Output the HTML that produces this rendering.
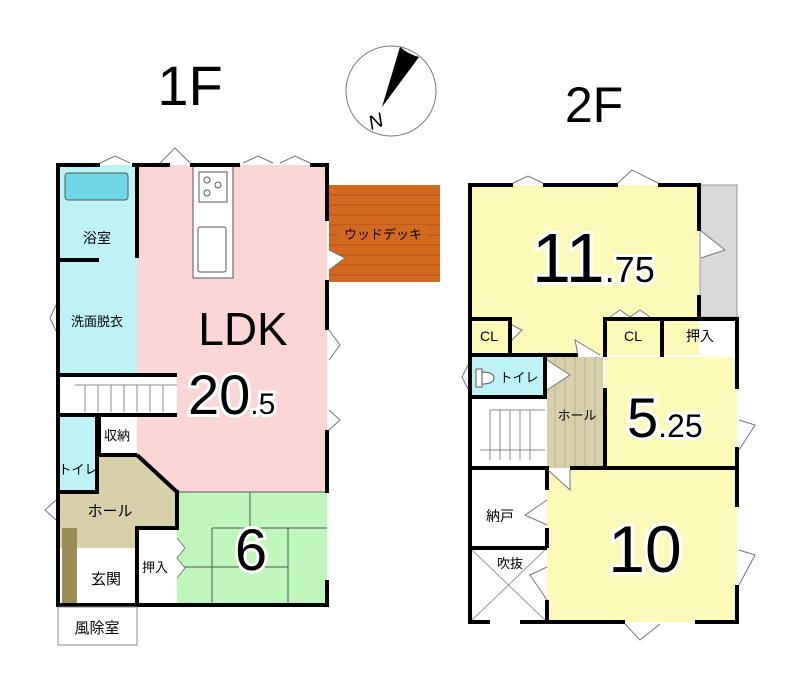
<!DOCTYPE html>
<html><head><meta charset="utf-8"><style>
html,body{margin:0;padding:0;background:#fff}
svg{display:block}
text{font-family:"Liberation Sans","Noto Sans CJK JP",sans-serif}
</style></head><body>
<svg width="800" height="682" viewBox="0 0 800 682" xmlns="http://www.w3.org/2000/svg">
<rect width="800" height="682" fill="#fff"/>
<text x="190" y="105" font-size="56" text-anchor="middle">1F</text>
<text x="594" y="122" font-size="50" text-anchor="middle">2F</text>
<!-- compass -->
<circle cx="391" cy="91" r="45" fill="#fff" stroke="#777" stroke-width="1"/>
<path d="M400,47 Q408,54 419,57 L382,107 Z" fill="#000"/>
<text x="376" y="128" font-size="20" font-family="Liberation Serif" font-style="italic" text-anchor="middle" transform="rotate(-20 376 122)">N</text>

<!-- ===== 1F ===== -->
<rect x="329" y="185" width="111" height="97" fill="#d2691e"/>
<g stroke="#b0501a" stroke-width="1">
<line x1="329" y1="195" x2="440" y2="195"/><line x1="329" y1="205" x2="440" y2="205"/><line x1="329" y1="215" x2="440" y2="215"/><line x1="329" y1="225" x2="440" y2="225"/><line x1="329" y1="235" x2="440" y2="235"/><line x1="329" y1="245" x2="440" y2="245"/><line x1="329" y1="255" x2="440" y2="255"/><line x1="329" y1="265" x2="440" y2="265"/><line x1="329" y1="275" x2="440" y2="275"/>
</g>
<rect x="338" y="225" width="90" height="18" fill="#d2691e"/>
<text x="383" y="239" font-size="13" text-anchor="middle" fill="#000">ウッドデッキ</text>
<rect x="137" y="165" width="190" height="327" fill="#fcd6d6"/>
<rect x="58" y="165" width="79" height="210" fill="#bdf2f7"/>
<rect x="58" y="415" width="39" height="77" fill="#bdf2f7"/>
<rect x="177" y="492" width="150" height="113" fill="#bff7bb"/>
<path d="M97,455 L137,455 L177,492 L177,528 L137,528 L137,548 L58,548 L58,492 L97,492 Z" fill="#d8d0a8"/>
<rect x="62" y="528" width="15" height="77" fill="#9b8d55"/>
<rect x="137" y="528" width="40" height="77" fill="#fff"/>
<rect x="77" y="548" width="60" height="57" fill="#fff"/>
<rect x="65" y="173" width="63" height="27" rx="3" fill="#6fd7e6" stroke="#555" stroke-width="1"/>
<rect x="193" y="165" width="40" height="113" fill="#fff" stroke="#555" stroke-width="1"/>
<rect x="199" y="172" width="28" height="30" fill="#fff" stroke="#555"/>
<circle cx="207" cy="180" r="3" fill="none" stroke="#555"/><circle cx="218" cy="185" r="3" fill="none" stroke="#555"/><circle cx="207" cy="193" r="3" fill="none" stroke="#555"/>
<rect x="198" y="227" width="28" height="45" rx="2" fill="#fff" stroke="#555"/>
<rect x="58" y="377" width="119" height="38" fill="#fff"/>
<g stroke="#888" stroke-width="1"><line x1="75" y1="385" x2="177" y2="385"/><line x1="85" y1="385" x2="85" y2="412"/><line x1="98" y1="385" x2="98" y2="412"/><line x1="111" y1="385" x2="111" y2="412"/><line x1="124" y1="385" x2="124" y2="412"/><line x1="137" y1="385" x2="137" y2="412"/><line x1="150" y1="385" x2="150" y2="412"/><line x1="163" y1="385" x2="163" y2="412"/></g>
<g stroke="#555" stroke-width="1" fill="none"><line x1="177" y1="492" x2="327" y2="492"/><line x1="212" y1="528" x2="212" y2="605"/><line x1="288" y1="528" x2="288" y2="605"/><line x1="212" y1="528" x2="327" y2="528"/><line x1="177" y1="567" x2="212" y2="567"/><line x1="212" y1="567" x2="288" y2="567"/><line x1="250" y1="492" x2="250" y2="528"/></g>
<g fill="#000">
<rect x="56" y="163" width="4" height="444"/>
<rect x="56" y="163" width="44" height="4"/><rect x="132" y="163" width="38" height="4"/><rect x="190" y="163" width="50" height="4"/><rect x="310" y="163" width="19" height="4"/>
<rect x="325" y="163" width="4" height="58"/><rect x="325" y="280" width="4" height="50"/><rect x="325" y="430" width="4" height="63"/><rect x="325" y="580" width="4" height="27"/>
<rect x="135" y="163" width="4" height="95"/><rect x="56" y="258" width="43" height="4"/>
<rect x="56" y="373" width="80" height="4"/><rect x="56" y="413" width="80" height="4"/>
<rect x="125" y="373" width="52" height="4"/><rect x="125" y="413" width="52" height="4"/>
<rect x="95" y="413" width="4" height="79"/><rect x="56" y="490" width="43" height="4"/>
<rect x="97" y="453" width="40" height="4"/><rect x="97" y="413" width="4" height="42"/>
<rect x="175" y="490" width="4" height="40"/><rect x="137" y="526" width="40" height="4"/><rect x="135" y="526" width="4" height="81"/>
<rect x="56" y="603" width="273" height="4"/>
</g>
<rect x="58" y="607" width="79" height="38" fill="#fff" stroke="#888" stroke-width="1"/>
<line x1="137" y1="455" x2="177" y2="492" stroke="#000" stroke-width="4"/>
<g fill="#fff" stroke="#777" stroke-width="1">
<path d="M100,163 L115,156 L130,163"/><path d="M160,163 L175,148 L190,163"/><path d="M243,163 L258,156 L273,163"/><path d="M280,163 L295,156 L310,163"/>
<path d="M56,305 L50,318 L56,331"/><path d="M56,500 L45,510 L56,520"/>
<path d="M329,330 L340,345 L329,360"/><path d="M329,410 L340,420 L329,430"/>
<path d="M329,250 L345,258 L329,270"/>
<path d="M177,538 L185,548 L177,558 L185,568 L177,578"/>
</g>
<g font-size="14" text-anchor="middle">
<text x="97" y="243">浴室</text>
<text x="97" y="326" font-size="13">洗面脱衣</text>
<text x="117" y="440" font-size="13">収納</text>
<text x="78" y="474" font-size="13">トイレ</text>
<text x="110" y="516" font-size="15">ホール</text>
<text x="106" y="584" font-size="15">玄関</text>
<text x="155" y="572" font-size="13">押入</text>
<text x="97" y="633" font-size="15">風除室</text>
</g>
<text x="243" y="345" font-size="46" text-anchor="middle">LDK</text>
<text x="188" y="414" font-size="56" stroke="#fff" stroke-width="6" paint-order="stroke">20<tspan font-size="30">.5</tspan></text>
<text x="251" y="570" font-size="58" text-anchor="middle" stroke="#fff" stroke-width="6" paint-order="stroke">6</text>

<!-- ===== 2F ===== -->
<rect x="470" y="185" width="229" height="170" fill="#fbfab9"/>
<rect x="700" y="185" width="37" height="132" fill="#d9d9d9" stroke="#999"/>
<rect x="605" y="357" width="132" height="111" fill="#fbfab9"/>
<rect x="547" y="470" width="190" height="152" fill="#fbfab9"/>
<rect x="470" y="357" width="75" height="40" fill="#bdf2f7"/>
<rect x="547" y="357" width="56" height="111" fill="#d8d0a8"/>
<g stroke="#bbb0a0" stroke-width="1"><line x1="555" y1="357" x2="555" y2="468"/><line x1="565" y1="357" x2="565" y2="468"/><line x1="575" y1="357" x2="575" y2="468"/><line x1="585" y1="357" x2="585" y2="468"/><line x1="595" y1="357" x2="595" y2="468"/></g>
<g stroke="#888" stroke-width="1"><line x1="490" y1="410" x2="545" y2="410"/><line x1="490" y1="410" x2="490" y2="460"/><line x1="500" y1="410" x2="500" y2="460"/><line x1="510" y1="410" x2="510" y2="460"/><line x1="520" y1="410" x2="520" y2="460"/><line x1="530" y1="410" x2="530" y2="460"/><line x1="480" y1="450" x2="545" y2="450"/></g>
<g stroke="#999" stroke-width="1"><line x1="472" y1="550" x2="545" y2="620"/><line x1="545" y1="550" x2="472" y2="620"/></g>
<g fill="#000">
<rect x="468" y="183" width="4" height="441"/>
<rect x="468" y="183" width="45" height="4"/><rect x="543" y="183" width="75" height="4"/><rect x="658" y="183" width="43" height="4"/>
<rect x="697" y="183" width="4" height="48"/><rect x="697" y="295" width="4" height="24"/>
<rect x="468" y="317" width="42" height="4"/><rect x="508" y="317" width="4" height="38"/>
<rect x="468" y="353" width="110" height="4"/>
<rect x="603" y="317" width="136" height="4"/><rect x="603" y="317" width="4" height="40"/><rect x="603" y="388" width="4" height="82"/>
<rect x="660" y="317" width="4" height="40"/>
<rect x="735" y="317" width="4" height="72"/><rect x="735" y="447" width="4" height="60"/><rect x="735" y="585" width="4" height="39"/>
<rect x="543" y="355" width="4" height="42"/><rect x="468" y="395" width="79" height="4"/>
<rect x="468" y="466" width="80" height="4"/><rect x="570" y="466" width="169" height="4"/>
<rect x="545" y="466" width="4" height="24"/><rect x="545" y="528" width="4" height="20"/><rect x="545" y="600" width="4" height="24"/>
<rect x="468" y="546" width="79" height="4"/>
<rect x="468" y="620" width="22" height="4"/><rect x="520" y="620" width="105" height="4"/><rect x="695" y="620" width="44" height="4"/>
</g>
<g fill="#fff" stroke="#777" stroke-width="1">
<path d="M513,183 L528,176 L543,183"/><path d="M618,183 L632,170 L658,183"/>
<path d="M701,231 L725,250 L701,258"/><path d="M512,325 L522,330 L512,340"/>
<path d="M610,317 L620,310 L630,317 L640,310 L650,317"/>
<path d="M578,355 L575,340 L600,355"/>
<path d="M547,360 L570,375 L547,390"/><path d="M468,365 L462,377 L468,389"/>
<path d="M739,420 L755,425 L739,450"/><path d="M739,550 L755,555 L739,585"/>
<path d="M548,470 L570,490 L570,470"/>
<path d="M547,500 L525,515 L547,525"/><path d="M547,567 L530,575 L547,600"/>
<path d="M625,624 L640,640 L660,624"/>
</g>
<g font-size="14" text-anchor="middle">
<text x="489" y="341">CL</text>
<text x="633" y="341">CL</text>
<text x="700" y="341">押入</text>
<text x="519" y="382" font-size="13">トイレ</text>
<text x="577" y="420" font-size="13">ホール</text>
<text x="500" y="521">納戸</text>
<text x="510" y="568" font-size="13">吹抜</text>
</g>
<path d="M476,369 h6 v18 h-6 z M482,372 q12,0 12,6 q0,6 -12,6" fill="#fff" stroke="#555"/>
<text x="532" y="282" font-size="70" stroke="#fff" stroke-width="6" paint-order="stroke">11<tspan font-size="36">.75</tspan></text>
<text x="627" y="437" font-size="56" stroke="#fff" stroke-width="6" paint-order="stroke">5<tspan font-size="32">.25</tspan></text>
<text x="645" y="572" font-size="66" text-anchor="middle" stroke="#fff" stroke-width="6" paint-order="stroke">10</text>
</svg>
</body></html>
